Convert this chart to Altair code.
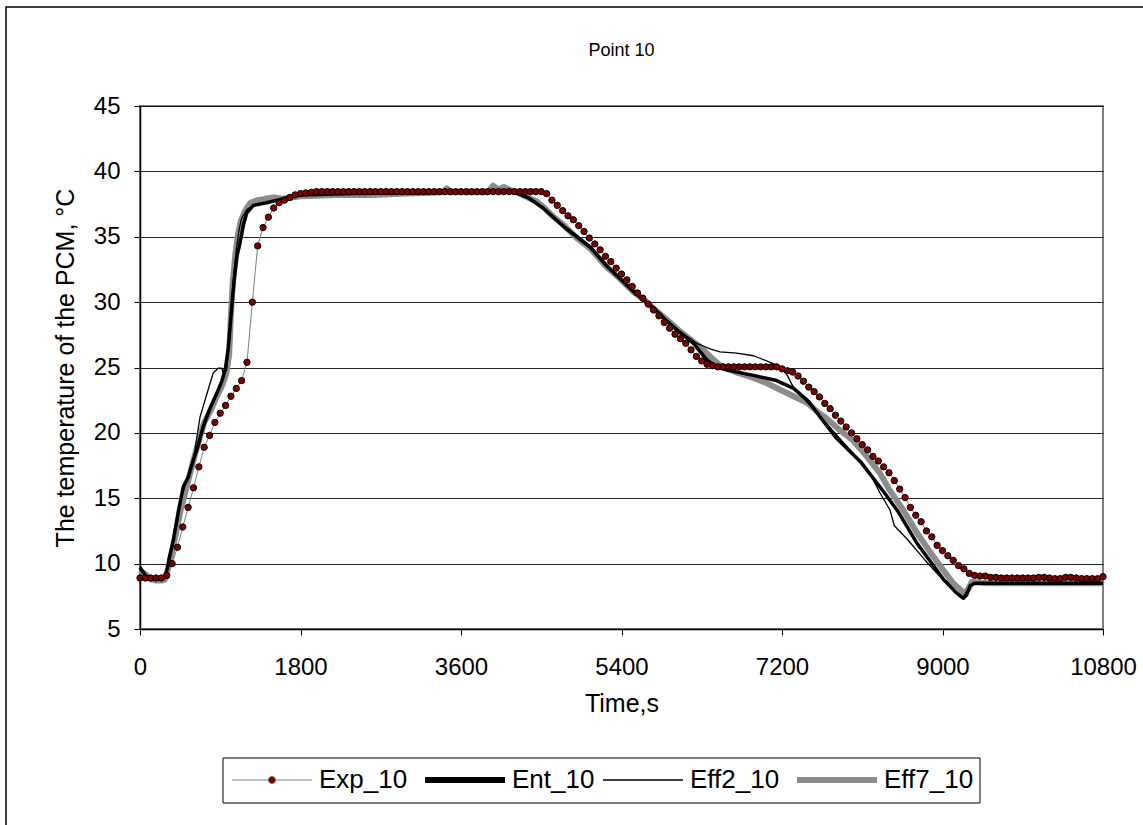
import altair as alt
import pandas as pd

FONT = "Liberation Sans"

chart_title = "Point 10"
series_names = ["Exp_10", "Ent_10", "Eff2_10", "Eff7_10"]
series_colors = ["#808080", "#000000", "#000000", "#8c8c8c"]

x_ticks = [0, 1800, 3600, 5400, 7200, 9000, 10800]
y_ticks = [5, 10, 15, 20, 25, 30, 35, 40, 45]

# Experimental points (every 60 s)
exp_time = list(range(0, 10801, 60))
exp_temp = (
    [8.9, 8.9, 8.9, 8.9, 8.9]
    + [9.1, 10.0, 11.25, 12.8, 14.3, 15.8, 17.4, 18.9, 19.8, 20.8, 21.5, 22.1, 22.8, 23.4,
       24.0, 25.4, 30.0, 34.3, 35.7, 36.5, 37.2, 37.6, 37.8, 38.0, 38.2, 38.3, 38.35, 38.4]
    + [38.45] * 43
    + [38.3, 37.8, 37.4, 37.0, 36.6, 36.3, 35.85, 35.4, 34.9, 34.45, 34.0, 33.5, 33.1, 32.6,
       32.15, 31.7, 31.2, 30.7, 30.3, 29.85, 29.4, 28.95, 28.45, 28.0, 27.55, 27.2, 26.85,
       26.35, 25.85, 25.5, 25.25, 25.15]
    + [25.05] * 12
    + [24.9, 24.75, 24.65, 24.35, 23.95, 23.5, 23.15, 22.75, 22.25, 21.85, 21.35, 20.9, 20.45,
       20.0, 19.55, 19.1, 18.7, 18.2, 17.85, 17.4, 16.95, 16.35, 15.7, 15.05, 14.3, 13.7, 13.2,
       12.5, 12.05, 11.4, 11.0, 10.6, 10.25, 9.85, 9.6, 9.25, 9.1, 9.05, 9.05]
    + [8.95, 8.95, 8.9, 8.9, 8.9, 8.9, 8.9, 8.9, 8.9, 8.95, 8.95, 8.9, 8.85, 8.85, 8.95, 8.95,
       8.9, 8.85, 8.85, 8.85, 8.85, 9.0]
)

ent_time = [0, 60, 120, 240, 290, 330, 374, 430, 486, 540, 598, 650, 710, 780, 860, 920, 960,
            990, 1010, 1040, 1065, 1090, 1121, 1160, 1196, 1271, 1420, 1600, 1800, 2400, 3600,
            4200, 4350, 4520, 4750, 4900, 5050, 5230, 5400, 5550, 5750, 5900, 6050, 6200, 6355,
            6450, 6580, 6880, 7140, 7330, 7500, 7630, 7810, 7960, 8080, 8340, 8500, 8710, 8860,
            9010, 9150, 9234, 9270, 9310, 9360, 10800]
ent_temp = [9.7, 9.1, 8.8, 8.8, 9.0, 10.5, 11.8, 14.0, 15.9, 16.6, 17.9, 19.0, 20.5, 21.8, 23.0,
            24.0, 25.0, 26.5, 28.1, 30.5, 32.2, 33.6, 34.5, 35.9, 36.8, 37.4, 37.6, 37.9, 38.2,
            38.3, 38.4, 38.4, 38.0, 37.2, 35.8, 35.0, 34.2, 32.8, 31.7, 30.7, 29.6, 28.6, 27.7,
            26.9, 25.6, 25.1, 24.8, 24.4, 24.0, 23.4, 22.4, 21.2, 19.6, 18.6, 17.8, 15.5, 14.0,
            11.6, 10.2, 8.8, 7.8, 7.35, 7.6, 8.3, 8.5, 8.5]

eff2_time = [0, 60, 120, 240, 300, 360, 420, 470, 530, 600, 673, 760, 822, 878, 916, 940, 970,
             1000, 1020, 1050, 1080, 1110, 1140, 1200, 1280, 1400, 1600, 1800, 3600, 4200, 4350,
             4520, 4750, 4900, 5050, 5230, 5400, 5550, 5750, 5900, 6050, 6243, 6400, 6505, 6692,
             6880, 7028, 7177, 7260, 7327, 7500, 7701, 8000, 8187, 8299, 8411, 8460, 8600, 8800,
             9000, 9150, 9230, 9300, 9360, 10800]
eff2_temp = [9.6, 9.1, 8.8, 8.8, 9.5, 11.5, 13.2, 15.2, 16.5, 18.0, 21.2, 23.2, 24.6, 24.95,
             24.95, 24.5, 24.8, 27.0, 29.5, 32.0, 34.0, 35.5, 36.4, 37.1, 37.4, 37.6, 37.9, 38.2,
             38.4, 38.4, 38.0, 37.2, 35.7, 34.9, 34.1, 32.8, 31.8, 30.8, 29.7, 28.7, 27.8, 26.85,
             26.4, 26.2, 26.1, 25.9, 25.5, 25.06, 24.4, 23.5, 22.2, 20.7, 18.4, 16.9, 15.4, 14.1,
             12.9, 11.9, 10.3, 8.8, 7.8, 7.4, 8.2, 8.5, 8.5]

eff7_time = [0, 60, 120, 180, 240, 280, 330, 400, 450, 520, 600, 660, 720, 800, 860, 920, 970,
             1000, 1020, 1040, 1070, 1100, 1130, 1180, 1240, 1320, 1400, 1500, 1600, 1800, 2200,
             2600, 3000, 3400, 3440, 3500, 3900, 3960, 4020, 4080, 4140, 4230, 4380, 4450, 4520,
             4640, 4750, 4900, 5050, 5230, 5380, 5530, 5650, 5760, 5900, 6050, 6200, 6280, 6400,
             6500, 6700, 6880, 7030, 7180, 7330, 7480, 7600, 7700, 7850, 8000, 8150, 8300, 8410,
             8550, 8710, 8860, 9010, 9120, 9200, 9250, 9290, 9330, 9500, 10000, 10800]
eff7_temp = [9.5, 9.2, 8.8, 8.7, 8.7, 8.8, 10.0, 12.2, 13.9, 15.8, 17.9, 19.4, 20.8, 21.8, 22.8,
             23.6, 24.6, 26.0, 29.0, 31.5, 33.7, 35.2, 36.2, 37.0, 37.6, 37.8, 37.9, 38.0, 37.9,
             38.1, 38.2, 38.2, 38.3, 38.4, 38.7, 38.4, 38.4, 38.9, 38.6, 38.8, 38.6, 38.4, 37.9,
             37.7, 37.3, 36.5, 35.9, 34.9, 34.1, 32.7, 31.8, 30.8, 30.2, 29.5, 28.7, 27.8, 27.0,
             26.6, 25.8, 25.2, 24.6, 24.2, 23.8, 23.3, 22.8, 22.3, 21.6, 21.1, 20.2, 19.4, 18.2,
             16.9, 15.6, 14.2, 12.4, 10.9, 9.5, 8.5, 8.0, 7.7, 8.1, 8.6, 8.5, 8.5, 8.5]


def frame(name, t, v):
    return pd.DataFrame({"t": t, "v": v, "series": name})


df_exp = frame("Exp_10", exp_time, exp_temp)
df_ent = frame("Ent_10", ent_time, ent_temp)
df_eff2 = frame("Eff2_10", eff2_time, eff2_temp)
df_eff7 = frame("Eff7_10", eff7_time, eff7_temp)

x_enc = alt.X(
    "t:Q",
    scale=alt.Scale(domain=[0, 10800], nice=False, zero=False),
    axis=alt.Axis(values=x_ticks, title="Time,s", grid=False, labelPadding=20,
                  titlePadding=12, format="d"),
)
y_enc = alt.Y(
    "v:Q",
    scale=alt.Scale(domain=[5, 45], nice=False, zero=False),
    axis=alt.Axis(values=y_ticks, title="The temperature of the PCM, °C", grid=True,
                  labelPadding=14, titlePadding=15),
)

exp_path = ("M-1,0H-0.09M0.09,0H1M-0.09,0A0.09,0.09,0,1,0,0.09,0"
            "A0.09,0.09,0,1,0,-0.09,0Z")

color_enc = alt.Color(
    "series:N",
    scale=alt.Scale(domain=series_names, range=series_colors),
    legend=alt.Legend(
        orient="none", legendX=110, legendY=652, direction="horizontal", columns=4,
        title=None, padding=9,
        labelFont=FONT, labelFontSize=26, labelColor="black",
        symbolSize=6400, labelOffset=34, columnPadding=5,
        symbolType={"expr": "datum.value === 'Exp_10' ? '" + exp_path + "' : 'stroke'"},
        symbolStrokeWidth={"expr": "datum.value === 'Exp_10' ? 1 : (datum.value === 'Ent_10' ? 6 : (datum.value === 'Eff2_10' ? 1.5 : 6))"},
        symbolFillColor={"expr": "datum.value === 'Exp_10' ? '#800000' : 'transparent'"},
    ),
)


def line_layer(df, width):
    return alt.Chart(df).mark_line(strokeJoin="round").encode(
        x=x_enc, y=y_enc, color=color_enc, strokeWidth=alt.value(width)
    )


one_row = pd.DataFrame({"label": [chart_title]})

# chart-area frame and legend frame (decoration)
border = alt.Chart(one_row).mark_rect(
    fill="transparent", stroke="black", strokeWidth=1.5
).encode(
    x=alt.value(-134), x2=alt.value(1100), y=alt.value(-99), y2=alt.value(800)
)
legend_box = alt.Chart(one_row).mark_rect(
    fill="white", stroke="black", strokeWidth=1
).encode(
    x=alt.value(83), x2=alt.value(840), y=alt.value(652), y2=alt.value(697)
)

title_text = alt.Chart(one_row).mark_text(
    font=FONT, fontSize=18, color="black", align="center", baseline="alphabetic"
).encode(
    text="label:N", x=alt.value(481.5), y=alt.value(-50)
)

points = alt.Chart(df_exp).mark_point(
    shape="circle", filled=True, fill="#800000", stroke="black", strokeWidth=1,
    size=40, opacity=1
).encode(x=x_enc, y=y_enc)

chart = alt.layer(
    border,
    legend_box,
    title_text,
    line_layer(df_eff7, 6),
    line_layer(df_ent, 3.5),
    line_layer(df_eff2, 1.3),
    line_layer(df_exp, 1),
    points,
).properties(
    width=963,
    height=523,
    autosize=alt.AutoSizeParams(type="none"),
    padding={"left": 140, "top": 106, "right": 40, "bottom": 196},
    background="white",
).configure_view(
    stroke="#808080", strokeWidth=2
).configure_axis(
    labelFont=FONT, labelFontSize=24, labelColor="black",
    titleFont=FONT, titleFontSize=25, titleFontWeight="normal", titleColor="black",
    domainColor="black", domainWidth=1.5, tickColor="black", tickSize=6, tickWidth=1,
    gridColor="#000000", gridWidth=1, gridOpacity=0.85, labelFlush=False,
)

chart.save("out.html", embed_options={"renderer": "svg", "actions": False})
